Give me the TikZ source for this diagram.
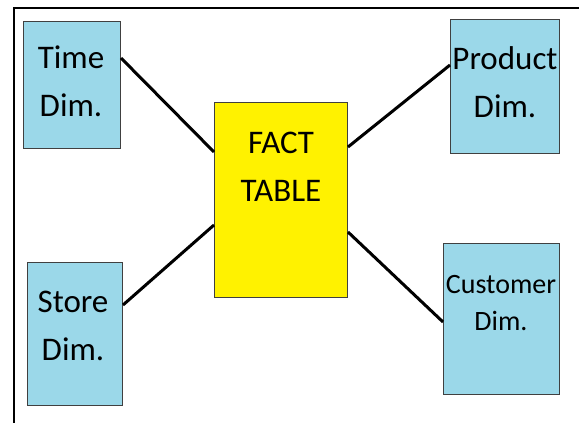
\documentclass[tikz,border=0pt]{standalone}
\usepackage{fontspec}
\setmainfont{Carlito}
\definecolor{dimblue}{RGB}{155,216,233}
\definecolor{factyellow}{RGB}{255,242,0}
\definecolor{boxedge}{RGB}{64,64,64}
\tikzset{
  dimbox/.style={draw=boxedge, line width=1pt, fill=dimblue, anchor=north west, inner sep=0pt},
  factbox/.style={draw=boxedge, line width=1pt, fill=factyellow, anchor=north west, inner sep=0pt},
  lbl/.style={align=center, font=\fontsize{33}{48}\selectfont, inner sep=0pt},
  smalllbl/.style={align=center, font=\fontsize{28}{37}\selectfont, inner sep=0pt},
  link/.style={line width=3pt, black},
  frameline/.style={line width=1.5pt, black}
}
\begin{document}
\begin{tikzpicture}[x=1pt,y=-1pt]
\useasboundingbox (0,0) rectangle (579,423);
\coordinate (fb) at (14,423);
\coordinate (fc) at (14,8);
\coordinate (fr) at (579,8);
\draw[frameline] (fb) -- (fc) -- (fr);

\node[dimbox, minimum width=97pt, minimum height=127pt] (time) at (23,21) {};
\node[dimbox, minimum width=109pt, minimum height=134pt] (product) at (450,19) {};
\node[dimbox, minimum width=95pt, minimum height=143pt] (store) at (27,262) {};
\node[dimbox, minimum width=116pt, minimum height=151pt] (customer) at (443,243) {};
\node[factbox, minimum width=133pt, minimum height=195pt] (fact) at (214,102) {};

\node[lbl] (timet) at (71,81) {Time\\Dim.};
\node[lbl] (productt) at (505,82) {Product\\Dim.};
\node[lbl] (storet) at (73,326) {Store\\Dim.};
\node[smalllbl] (customert) at (501,303) {Customer\\Dim.};
\node[lbl] (factt) at (281,167) {FACT\\TABLE};

\draw[link] ([yshift=-37pt]time.north east) -- ([yshift=-50pt]fact.north west);
\draw[link] ([yshift=-46pt]product.north west) -- ([yshift=-45pt]fact.north east);
\draw[link] ([yshift=-43pt]store.north east) -- ([yshift=-123pt]fact.north west);
\draw[link] ([yshift=-79pt]customer.north west) -- ([yshift=-130pt]fact.north east);
\end{tikzpicture}
\end{document}
